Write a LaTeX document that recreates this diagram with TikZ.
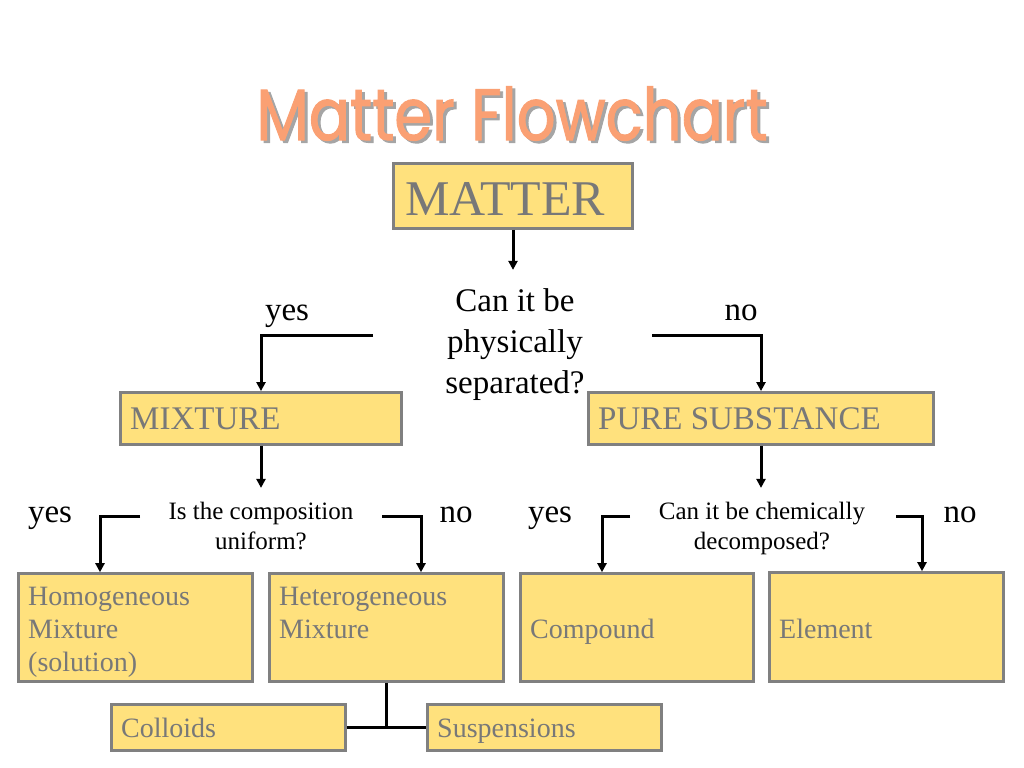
\documentclass[tikz,border=0pt]{standalone}
\usepackage{fontspec}
\usepackage{graphicx}
\setmainfont{Liberation Serif}
\newfontfamily\titlefont[FakeBold=1.5]{Poppins}
\usetikzlibrary{arrows.meta}
\definecolor{boxfill}{RGB}{255,225,125}
\definecolor{boxline}{RGB}{128,128,128}
\definecolor{boxtext}{RGB}{120,120,120}
\definecolor{titlecol}{RGB}{250,160,115}
\definecolor{shadowcol}{RGB}{165,165,165}
\newcommand{\fs}[2]{\fontsize{#1bp}{#2bp}\selectfont}
\newcommand{\titlestr}{\scalebox{1.05}[1.25]{Matter Flowchart}}
\begin{document}
\begin{tikzpicture}[x=1bp,y=-1bp,
  box/.style={draw=boxline, line width=3bp, fill=boxfill, inner sep=0pt},
  btext/.style={text=boxtext, inner sep=0pt, anchor=base west, font=\fs{28}{33}},
  bbig/.style={btext, font=\fs{33}{38}},
  conn/.style={line width=3bp, black},
  arr/.style={conn, -{Triangle[length=9bp,width=9bp]}},
  quest/.style={align=center, inner sep=0pt, anchor=north},
  ans/.style={inner sep=0pt, anchor=base, font=\fs{33}{40}},
  titletext/.style={inner sep=0pt, anchor=base, font=\titlefont\fs{58}{66}}]
\useasboundingbox (0,0) rectangle (1024,768);

% title with shadow
\node[titletext, text=shadowcol] (titleshadow) at (515,142.5) {\titlestr};
\node[titletext, text=titlecol] (title) at (512,140) {\titlestr};

% boxes
\node[box, minimum width=239, minimum height=65] (matter) at (513,196) {};
\node[box, minimum width=283, minimum height=52] (mix) at (261,418.5) {};
\node[box, minimum width=347, minimum height=52] (pure) at (761,418.5) {};
\node[box, minimum width=234, minimum height=108] (homo) at (135.5,627.5) {};
\node[box, minimum width=234, minimum height=108] (hetero) at (386.5,627.5) {};
\node[box, minimum width=234, minimum height=108] (comp) at (637,627.5) {};
\node[box, minimum width=234, minimum height=109] (elem) at (886.5,627) {};
\node[box, minimum width=234, minimum height=46] (coll) at (228.5,727.5) {};
\node[box, minimum width=234, minimum height=46] (susp) at (544.5,727.5) {};

% box texts
\node[btext, font=\fs{50}{56}] (matter-t) at (405,215) {MATTER};
\node[bbig] (mix-t) at (130,429) {MIXTURE};
\node[bbig] (pure-t) at (598,429) {PURE SUBSTANCE};
\node[btext] (homo-t1) at (28,605) {Homogeneous};
\node[btext] (homo-t2) at (28,638) {Mixture};
\node[btext] (homo-t3) at (28,671) {(solution)};
\node[btext] (hetero-t1) at (279,605) {Heterogeneous};
\node[btext] (hetero-t2) at (279,638) {Mixture};
\node[btext] (comp-t) at (530,638) {Compound};
\node[btext] (elem-t) at (779,638) {Element};
\node[btext] (coll-t) at (121,737) {Colloids};
\node[btext] (susp-t) at (437,737) {Suspensions};

% questions
\node[quest, font=\fs{33}{41}] (q1) at (515,288.5) {Can it be\\physically\\separated?};
\node[quest, font=\fs{25}{30}] (q2) at (261,501.5) {Is the composition\\uniform?};
\node[quest, font=\fs{25}{30}] (q3) at (762,501.5) {Can it be chemically\\decomposed?};

% answers
\node[ans] (yes1) at (287,320) {yes};
\node[ans] (no1) at (741,320) {no};
\node[ans] (yes2) at (50,522) {yes};
\node[ans] (no2) at (456,522) {no};
\node[ans] (yes3) at (550,522) {yes};
\node[ans] (no3) at (960,522) {no};

% connector start points
\coordinate (q1l) at (373,335);
\coordinate (q1r) at (652,335);
\coordinate (q2l) at (140,516);
\coordinate (q2r) at (382,516);
\coordinate (q3l) at (630,516);
\coordinate (q3r) at (896,516);

% connectors
\draw[arr] (matter.south) -- ++(0,40);
\draw[arr] (q1l) -| (mix.north);
\draw[arr] (q1r) -| (pure.north);
\draw[arr] (mix.south) -- ++(0,42);
\draw[arr] (pure.south) -- ++(0,42);
\draw[arr] (q2l) -| ([xshift=-35.5bp]homo.north);
\draw[arr] (q2r) -| ([xshift=34.5bp]hetero.north);
\draw[arr] (q3l) -| ([xshift=-35bp]comp.north);
\draw[arr] (q3r) -| ([xshift=35.5bp]elem.north);
\draw[conn] (hetero.south) -- (hetero.south |- coll.east);
\draw[conn] (coll.east) -- (susp.west);
\end{tikzpicture}
\end{document}
